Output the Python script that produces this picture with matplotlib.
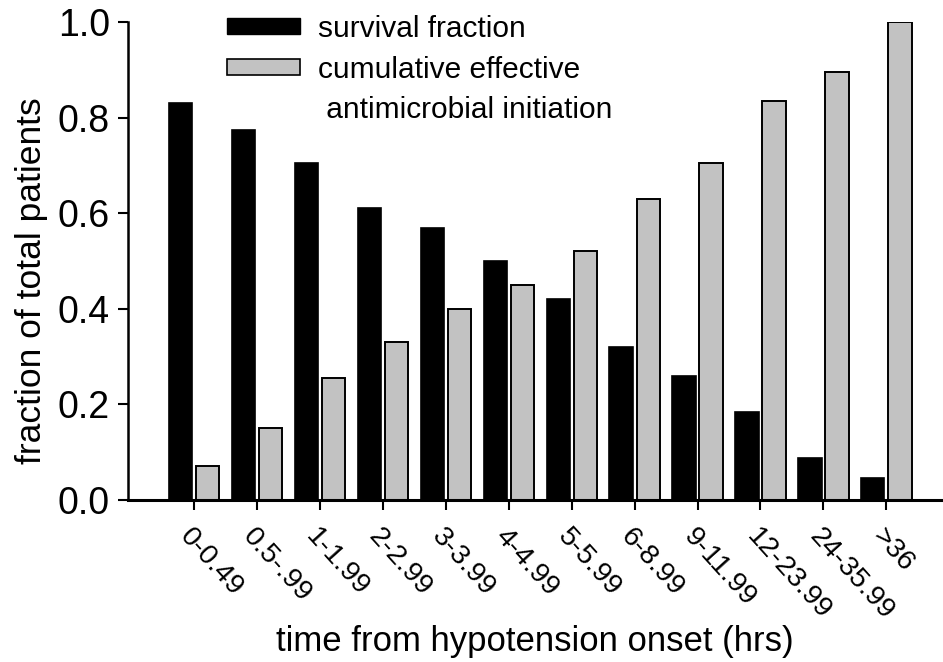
import matplotlib.pyplot as plt
from matplotlib.patches import Patch
import numpy as np

plt.rcParams['font.family'] = ['Liberation Sans', 'DejaVu Sans']

# -----------------------------
# Data
# -----------------------------
categories = ["0-0.49", "0.5-.99", "1-1.99", "2-2.99", "3-3.99", "4-4.99",
              "5-5.99", "6-8.99", "9-11.99", "12-23.99", "24-35.99", ">36"]
survival = [0.83, 0.775, 0.705, 0.61, 0.57, 0.50, 0.42, 0.32, 0.26, 0.185, 0.088, 0.045]
cumulative = [0.072, 0.15, 0.255, 0.33, 0.40, 0.45, 0.52, 0.63, 0.705, 0.835, 0.895, 1.0]

# -----------------------------
# Plot
# -----------------------------
fig = plt.figure(figsize=(9.43, 6.62), dpi=100)
ax = fig.add_axes([128 / 943, 1 - 500 / 662, 1 - 128 / 943, (500 - 22) / 662])

x = np.arange(len(categories))
w = 0.37
b1 = ax.bar(x - 0.215, survival, w, color='black', edgecolor='black', linewidth=1.2)
b2 = ax.bar(x + 0.215, cumulative, w, color='#c2c2c2', edgecolor='black', linewidth=1.4)

ax.set_xlim(-1.05, 11.9)
ax.set_ylim(0, 1.0)
ax.set_yticks([0.0, 0.2, 0.4, 0.6, 0.8, 1.0])
ax.set_yticklabels(["0.0", "0.2", "0.4", "0.6", "0.8", "1.0"])
ax.set_xticks(x)
ax.set_xticklabels(categories, rotation=-48, ha='left', va='top', rotation_mode='anchor')

ax.tick_params(axis='y', labelsize=27, length=7, width=1.5, direction='out', pad=6)
ax.tick_params(axis='x', labelsize=20.5, length=7, width=1.5, direction='out', pad=10)

for s in ['top', 'right']:
    ax.spines[s].set_visible(False)
ax.spines['left'].set_linewidth(1.8)
ax.spines['bottom'].set_linewidth(2.2)
ax.spines['bottom'].set_clip_on(False)

ax.set_ylabel("fraction of total patients", fontsize=25.5)
ax.yaxis.set_label_coords(-0.098, 0.458)
ax.set_xlabel("time from hypotension onset (hrs)", fontsize=25)
ax.xaxis.set_label_coords(0.4994, -0.262)

# legend: the second label's wrapped line is a blank entry so the patch
# sits beside the first line, like in the original
handles = [Patch(facecolor='black', edgecolor='black'),
           Patch(facecolor='#c2c2c2', edgecolor='black', linewidth=1.2),
           Patch(facecolor='none', edgecolor='none')]
labels = ['survival fraction', 'cumulative effective', ' antimicrobial initiation']
ax.legend(handles, labels, loc='upper left', bbox_to_anchor=(227 / 943, 1 - 15 / 662),
          bbox_transform=fig.transFigure, frameon=False, fontsize=21.5,
          handlelength=2.45, handleheight=0.45, handletextpad=0.6,
          borderpad=0, labelspacing=0.42, borderaxespad=0)

fig.savefig("out.png", dpi=100)
